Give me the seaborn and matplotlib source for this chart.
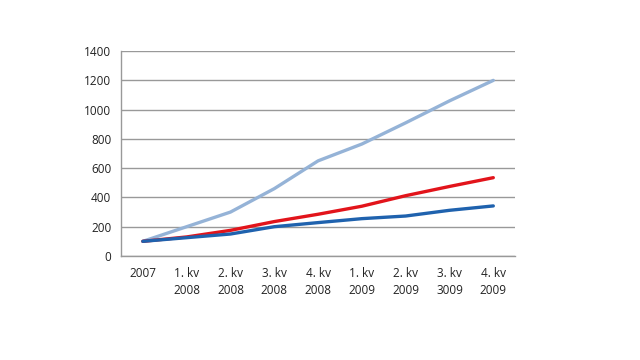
import numpy as np
import pandas as pd
import seaborn as sns
import matplotlib.pyplot as plt

# category labels on the x axis
categories = ['2007', '1. kv\n2008', '2. kv\n2008', '3. kv\n2008', '4. kv\n2008',
              '1. kv\n2009', '2. kv\n2009', '3. kv\n3009', '4. kv\n2009']

# series values
light_blue = [100, 200, 300, 460, 650, 765, 910, 1060, 1200]
red = [100, 130, 175, 235, 285, 340, 412, 475, 535]
dark_blue = [100, 125, 150, 200, 228, 255, 273, 312, 342]

series_names = ['light', 'red', 'dark']
series_colors = {'light': '#95B3D7', 'red': '#E2141B', 'dark': '#1F62AE'}

rows = []
for name, vals in zip(series_names, [light_blue, red, dark_blue]):
    for i, v in enumerate(vals):
        rows.append({'x': i, 'value': v, 'series': name})
df = pd.DataFrame(rows)

sns.set_style('white')
plt.rcParams['font.family'] = ['Open Sans', 'DejaVu Sans']

fig = plt.figure(figsize=(6.4, 3.6), dpi=100)
ax = fig.add_axes([0.189, 0.289, 0.616, 0.569])

sns.lineplot(data=df, x='x', y='value', hue='series', palette=series_colors,
             linewidth=2.4, legend=False, ax=ax)

ax.set_xlim(-0.5, len(categories) - 0.5)
ax.set_ylim(0, 1400)
ax.set_yticks(range(0, 1401, 200))
ax.yaxis.grid(True, color='#999999', linewidth=1)
ax.set_axisbelow(True)

ax.set_xticks(range(len(categories)))
ax.set_xticklabels(categories, fontsize=8.5, color='#222222', linespacing=1.35)
ax.set_xticks(np.arange(-0.5, len(categories), 1), minor=True)
ax.tick_params(axis='x', which='major', length=0, pad=8)
ax.tick_params(axis='x', which='minor', length=4, color='#999999', direction='out')
ax.tick_params(axis='y', length=4, color='#999999', direction='out', labelsize=8.5,
               labelcolor='#222222', pad=3)

ax.set_xlabel('')
ax.set_ylabel('')
for side in ['top', 'right']:
    ax.spines[side].set_visible(False)
for side in ['left', 'bottom']:
    ax.spines[side].set_color('#999999')
    ax.spines[side].set_linewidth(1)

plt.savefig('out.png', dpi=100)
